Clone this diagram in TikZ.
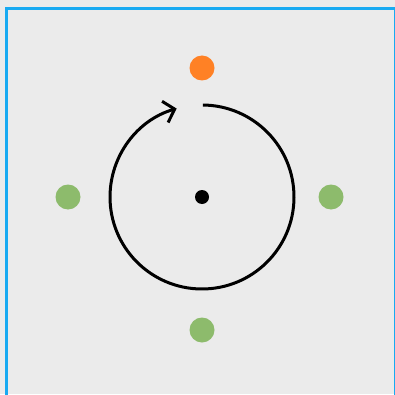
\documentclass[tikz,border=0pt]{standalone}
\usetikzlibrary{arrows.meta}
\definecolor{bggray}{HTML}{EBEBEB}
\definecolor{frameblue}{HTML}{18AAF2}
\definecolor{dotorange}{HTML}{FF8125}
\definecolor{dotgreen}{HTML}{8DBB6C}
\tikzset{
  dot/.style={circle, fill=#1, draw=none, minimum size=25pt, inner sep=0pt},
  centerdot/.style={circle, fill=black, minimum size=14pt, inner sep=0pt},
}
\begin{document}
\begin{tikzpicture}[x=1pt,y=1pt]
\useasboundingbox (0,0) rectangle (395,394);
\fill[bggray] (0,0) rectangle (395,394);
\draw[frameblue, line width=3pt] (6.8,385.5) rectangle (395.3,-10);
\node[centerdot] (c) at (202,197) {};
\node[dot=dotorange] (top) at (202,326) {};
\node[dot=dotgreen] (left) at (68,197) {};
\node[dot=dotgreen] (right) at (331,197) {};
\node[dot=dotgreen] (bottom) at (202,64) {};
\draw[line width=3pt, -{Straight Barb[length=10pt,width=22pt]}]
  ([shift={(89.5:92)}]c.center) arc[start angle=89.5, end angle=-254, radius=92];
\end{tikzpicture}
\end{document}
